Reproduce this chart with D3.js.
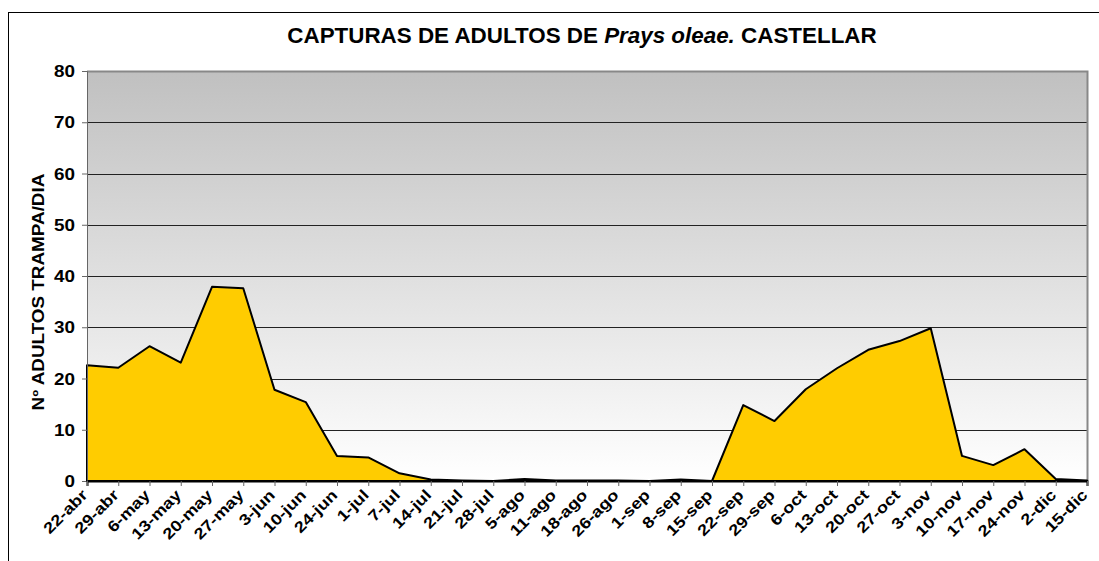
<!DOCTYPE html>
<html>
<head>
<meta charset="utf-8">
<script src="https://cdn.jsdelivr.net/npm/d3@7"></script>
<style>
  body { margin: 0; background: #fff; }
  svg text { font-family: "Liberation Sans", Arial, sans-serif; font-weight: bold; }
</style>
</head>
<body>
<div id="chart"></div>
<script>
// Capture dates and daily catches per trap
const fechas = ['22-abr', '29-abr', '6-may', '13-may', '20-may', '27-may', '3-jun', '10-jun', '24-jun',
  '1-jul', '7-jul', '14-jul', '21-jul', '28-jul', '5-ago', '11-ago', '18-ago', '26-ago', '1-sep',
  '8-sep', '15-sep', '22-sep', '29-sep', '6-oct', '13-oct', '20-oct', '27-oct', '3-nov', '10-nov',
  '17-nov', '24-nov', '2-dic', '15-dic'];
const capturas = [22.6, 22.1, 26.3, 23.1, 37.9, 37.6, 17.8, 15.4, 4.9,
  4.6, 1.5, 0.3, 0.1, 0, 0.4, 0.1, 0.1, 0.1, 0,
  0.3, 0, 14.8, 11.7, 17.9, 22.0, 25.6, 27.3, 29.8, 4.9,
  3.1, 6.2, 0.4, 0.1];
const yTicks = [0, 10, 20, 30, 40, 50, 60, 70, 80];

const width = 1099, height = 561;
const margin = { top: 71, right: 12, bottom: 80, left: 87 };
const stretch = 1.18; // text in the original is a bit wider than Arial

const svg = d3.select('#chart').append('svg')
  .attr('width', width)
  .attr('height', height);

// outer chart frame
svg.append('rect')
  .attr('x', 8.5).attr('y', 12.5)
  .attr('width', 1200).attr('height', 700)
  .attr('fill', 'none')
  .attr('stroke', '#000');

const x = d3.scalePoint()
  .domain(fechas)
  .range([margin.left, width - margin.right]);

const y = d3.scaleLinear()
  .domain([0, 80])
  .range([height - margin.bottom, margin.top]);

// background gradient
const grad = svg.append('defs').append('linearGradient')
  .attr('id', 'bg').attr('x1', 0).attr('y1', 0).attr('x2', 0).attr('y2', 1);
grad.append('stop').attr('offset', '0%').attr('stop-color', '#c0c0c0');
grad.append('stop').attr('offset', '100%').attr('stop-color', '#ffffff');

svg.append('rect')
  .attr('x', margin.left).attr('y', margin.top)
  .attr('width', width - margin.right - margin.left)
  .attr('height', y(0) - y(80))
  .attr('fill', 'url(#bg)');

// gridlines
svg.append('g')
  .selectAll('line')
  .data(yTicks.slice(1, -1))
  .join('line')
  .attr('x1', margin.left).attr('x2', width - margin.right)
  .attr('y1', d => Math.round(y(d)) + 0.5).attr('y2', d => Math.round(y(d)) + 0.5)
  .attr('stroke', '#222');

// plot border (top & right)
svg.append('path')
  .attr('d', `M${margin.left},${margin.top + 0.5}H${width - margin.right + 0.5}V${y(0)}`)
  .attr('fill', 'none')
  .attr('stroke', '#888')
  .attr('stroke-width', 2);

// area
const area = d3.area()
  .x((d, i) => x(fechas[i]))
  .y0(y(0))
  .y1(d => y(d));

svg.append('path')
  .datum(capturas)
  .attr('d', area)
  .attr('fill', '#ffcc00')
  .attr('stroke', '#000')
  .attr('stroke-width', 2)
  .attr('stroke-linejoin', 'round');

// y axis
const yAxis = svg.append('g')
  .attr('transform', `translate(${margin.left},0)`)
  .call(d3.axisLeft(y).tickValues(yTicks).tickSize(5));
yAxis.select('.domain').attr('stroke', '#666');
yAxis.selectAll('.tick line').attr('stroke', '#666');
yAxis.selectAll('text')
  .attr('font-size', 16)
  .attr('fill', '#000')
  .attr('x', null)
  .attr('dy', '0.35em')
  .attr('transform', `translate(-12,0) scale(${stretch},1)`);

// x axis
const xAxis = svg.append('g')
  .attr('transform', `translate(0,${y(0)})`)
  .call(d3.axisBottom(x).tickSize(5));
xAxis.select('.domain').attr('stroke', '#000').attr('stroke-width', 2);
xAxis.selectAll('.tick line').attr('stroke', '#666');
xAxis.selectAll('text')
  .attr('font-size', 15.5)
  .attr('fill', '#000')
  .attr('text-anchor', 'end')
  .attr('dy', null)
  .attr('y', 0)
  .attr('transform', `translate(1,15) rotate(-45) scale(${stretch},1)`);

// title
const title = svg.append('text')
  .attr('x', 582)
  .attr('y', 43)
  .attr('text-anchor', 'middle')
  .attr('font-size', 22.4);
title.append('tspan').text('CAPTURAS DE ADULTOS DE ');
title.append('tspan').attr('font-style', 'italic').text('Prays oleae.');
title.append('tspan').text(' CASTELLAR');

// y label
svg.append('text')
  .attr('transform', `translate(44,292) rotate(-90) scale(${stretch},1)`)
  .attr('text-anchor', 'middle')
  .attr('font-size', 16)
  .text('Nº ADULTOS TRAMPA/DIA');
</script>
</body>
</html>
